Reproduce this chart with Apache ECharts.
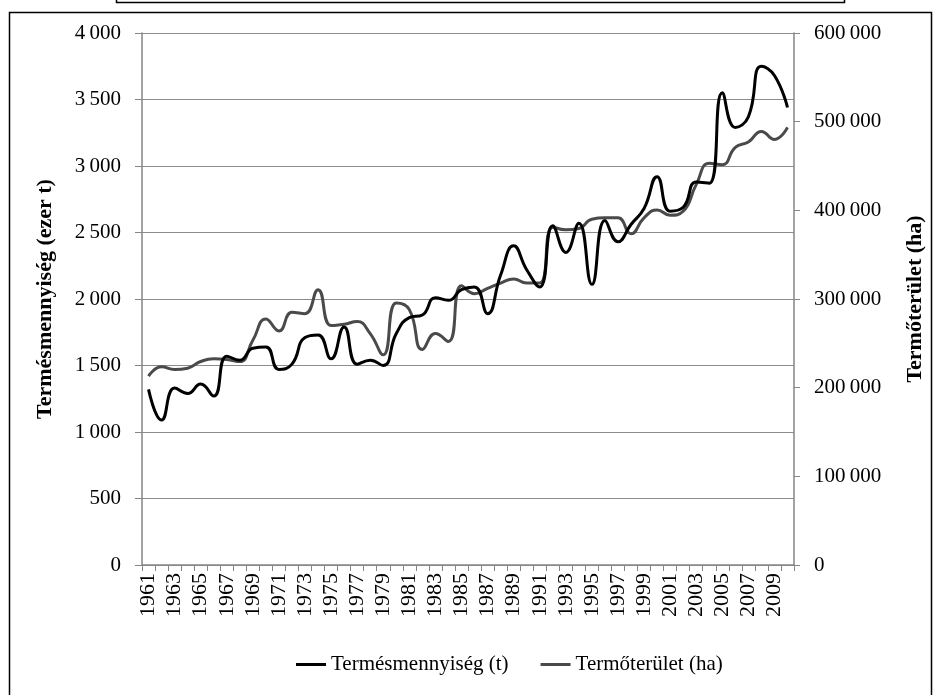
<!DOCTYPE html>
<html>
<head>
<meta charset="utf-8">
<script src="https://cdn.jsdelivr.net/npm/echarts@6/dist/echarts.min.js"></script>
<style>html,body{margin:0;padding:0;background:#fff}#c{width:934px;height:695px}</style>
</head>
<body>
<div id="c"></div>
<script>
var years = [];
for (var y = 1961; y <= 2010; y++) years.push(String(y));
var yieldName = 'Termésmennyiség (t)';
var areaName = 'Termőterület (ha)';
var yieldValues = [1320,1090,1330,1290,1360,1270,1570,1540,1630,1640,1470,1510,1710,1730,1550,1790,1510,1540,1500,1740,1860,1880,2010,1990,2070,2090,1890,2180,2400,2220,2090,2550,2350,2570,2110,2590,2430,2560,2680,2920,2660,2690,2880,2870,3550,3290,3370,3750,3680,3440];
var areaValues = [213000,223500,220500,222000,229500,232500,231800,229500,253500,277500,264000,285000,283500,310500,270000,271500,274500,261000,237000,295500,288000,243000,261000,252000,315000,306000,312000,318000,322500,318000,318000,381000,378000,379500,390000,391500,391500,373500,391500,400500,394500,399000,429000,453000,451500,471000,477000,489000,480000,493500];

function fmt(v){ return String(v).replace(/\B(?=(\d{3})+(?!\d))/g, '\u2009'); }

var FONT = '"Liberation Serif", "Times New Roman", serif';
var chart = echarts.init(document.getElementById('c'), null, {renderer:'canvas'});
chart.setOption({
  animation:false,
  backgroundColor:'#fff',
  textStyle:{fontFamily:FONT},
  graphic:[
    {type:'rect', shape:{x:9.5,y:12.5,width:922,height:690}, style:{fill:'none',stroke:'#000',lineWidth:1.5}},
    {type:'rect', shape:{x:116.5,y:-10,width:728,height:12.5}, style:{fill:'none',stroke:'#000',lineWidth:1.5}}
  ],
  grid:{left:142, right:115, top:33, bottom:130, containLabel:false},
  legend:{
    left:291, top:649, itemGap:32, itemWidth:30, itemHeight:3, icon:'rect',
    textStyle:{fontFamily:FONT, fontSize:21, color:'#000'},
    data:[yieldName, areaName]
  },
  xAxis:{
    type:'category', data:years, boundaryGap:true,
    axisLine:{lineStyle:{color:'#868686', width:1.5}},
    axisTick:{show:true, interval:0, length:6, lineStyle:{color:'#868686'}},
    axisLabel:{interval:1, rotate:90, fontSize:22, color:'#000', margin:8, fontFamily:FONT},
    splitLine:{show:false}
  },
  yAxis:[
    {type:'value', min:0, max:4000, interval:500, position:'left',
     name:'Termésmennyiség (ezer t)', nameLocation:'middle', nameGap:86, nameRotate:90,
     nameTextStyle:{fontFamily:FONT, fontSize:22, fontWeight:'bold', color:'#000'},
     axisLine:{show:true, lineStyle:{color:'#868686', width:1.5}},
     axisTick:{show:true, length:7, inside:false, lineStyle:{color:'#868686'}},
     axisLabel:{formatter:fmt, fontSize:21, color:'#000', margin:21, fontFamily:FONT},
     splitLine:{show:true, lineStyle:{color:'#8c8c8c', width:1}}
    },
    {type:'value', min:0, max:600000, interval:100000, position:'right',
     name:'Termőterület (ha)', nameLocation:'middle', nameGap:110, nameRotate:90,
     nameTextStyle:{fontFamily:FONT, fontSize:22, fontWeight:'bold', color:'#000'},
     axisLine:{show:true, lineStyle:{color:'#868686', width:1.5}},
     axisTick:{show:true, length:6, lineStyle:{color:'#868686'}},
     axisLabel:{formatter:fmt, fontSize:21, color:'#000', margin:20, fontFamily:FONT},
     splitLine:{show:false}
    }
  ],
  series:[
    {name:yieldName, type:'line', yAxisIndex:0, data:yieldValues, smooth:0.5, showSymbol:false, symbol:'none',
     lineStyle:{color:'#000', width:3}, itemStyle:{color:'#000'}, z:3},
    {name:areaName, type:'line', yAxisIndex:1, data:areaValues, smooth:0.5, showSymbol:false, symbol:'none',
     lineStyle:{color:'#4a4a4a', width:3}, itemStyle:{color:'#4a4a4a'}, z:2}
  ]
});
</script>
</body>
</html>
